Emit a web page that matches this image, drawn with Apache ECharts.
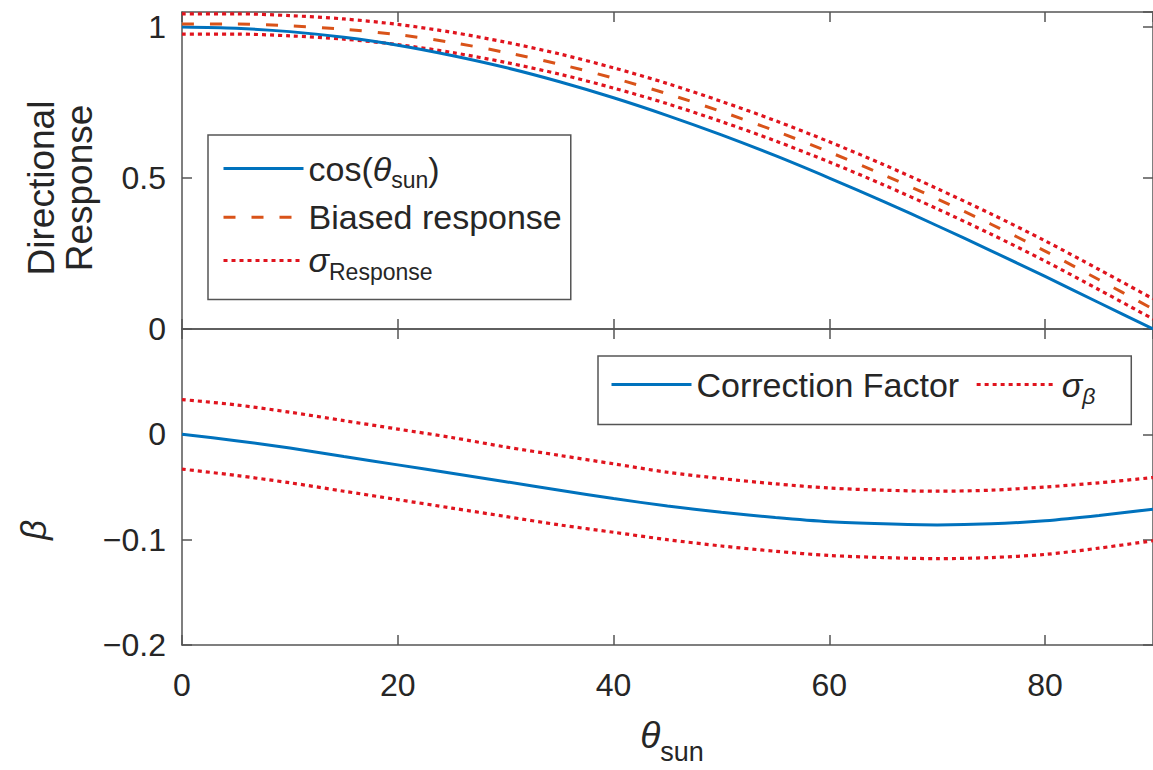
<!DOCTYPE html>
<html>
<head>
<meta charset="utf-8">
<script src="https://cdn.jsdelivr.net/npm/echarts@6/dist/echarts.min.js"></script>
<style>
html,body{margin:0;padding:0;background:#fff;}
#chart{width:1153px;height:770px;}
</style>
</head>
<body>
<div id="chart"></div>
<script>
// ---- data ----
const theta = [0,5,10,15,20,25,30,35,40,45,50,55,60,65,70,75,80,85,90];
const cosSun = [1.000,0.996,0.985,0.966,0.940,0.906,0.866,0.819,0.766,0.707,0.643,0.574,0.500,0.423,0.342,0.259,0.174,0.087,0.000];
const biasedResp = [1.010,1.010,1.004,0.993,0.975,0.949,0.916,0.877,0.831,0.779,0.720,0.656,0.586,0.511,0.431,0.347,0.258,0.163,0.066];
const respUpper = [1.044,1.044,1.038,1.027,1.009,0.983,0.950,0.911,0.865,0.813,0.754,0.690,0.620,0.545,0.465,0.381,0.292,0.197,0.100];
const respLower = [0.977,0.977,0.971,0.960,0.942,0.916,0.883,0.844,0.798,0.746,0.687,0.623,0.553,0.478,0.398,0.314,0.225,0.130,0.033];
const beta = [0.000,-0.006,-0.013,-0.021,-0.029,-0.037,-0.045,-0.053,-0.061,-0.068,-0.074,-0.079,-0.083,-0.085,-0.086,-0.085,-0.082,-0.077,-0.071];
const betaUpper = [0.033,0.028,0.021,0.013,0.005,-0.003,-0.012,-0.020,-0.028,-0.036,-0.042,-0.047,-0.051,-0.053,-0.054,-0.053,-0.050,-0.046,-0.041];
const betaLower = [-0.033,-0.039,-0.046,-0.054,-0.062,-0.070,-0.078,-0.086,-0.093,-0.100,-0.106,-0.111,-0.115,-0.117,-0.118,-0.117,-0.114,-0.108,-0.101];
const seriesNames = ['cos(θsun)','Biased response','σResponse','Correction Factor','σβ'];

// ---- styling ----
const FONT = 'Liberation Sans, Arial, Helvetica, sans-serif';
const TXT = '#262626';
const AX = '#555555';
const BLUE = '#0072BD', ORANGE = '#D95319', RED = '#E0141E';

function pts(arr){ return theta.map((t,i)=>[t, arr[i]]); }
function fmtMinus(v){ return String(Math.round(v*100)/100).replace('-', '\u2212'); }

function xAx(grid, pos, labels){
  return {type:'value', gridIndex:grid, position:pos, min:0, max:90, interval:20,
    axisLine:{show:true, onZero:false, lineStyle:{color:AX, width:1.5}},
    axisTick:{show:true, inside:true, length:10, lineStyle:{color:AX, width:1.5}},
    axisLabel:{show:labels, showMaxLabel:false, margin:24, fontSize:32, fontFamily:FONT, color:TXT},
    splitLine:{show:false}};
}
function yAx(grid, pos, labels, min, max, interval, fmt){
  return {type:'value', gridIndex:grid, position:pos, min:min, max:max, interval:interval,
    axisLine:{show:true, onZero:false, lineStyle:{color:AX, width:1.5}},
    axisTick:{show:true, inside:true, length:10, lineStyle:{color:AX, width:1.5}},
    axisLabel:{show:labels, showMaxLabel:false, margin:16, fontSize:32, fontFamily:FONT, color:TXT, formatter:fmt},
    splitLine:{show:false}};
}
function line(name, data, xi, yi, color, type, width){
  return {name:name, type:'line', xAxisIndex:xi, yAxisIndex:yi, data:pts(data),
    symbol:'none', smooth:0.3, clip:true,
    lineStyle:{color:color, width:width, type:type}, itemStyle:{color:color}, emphasis:{disabled:true}};
}

const rich = {
  n:{fontSize:34, fontFamily:FONT, color:TXT, lineHeight:44, verticalAlign:'middle'},
  i:{fontSize:34, fontFamily:FONT, fontStyle:'italic', color:TXT, lineHeight:44, verticalAlign:'middle'},
  s:{fontSize:23, fontFamily:FONT, color:TXT, lineHeight:46, verticalAlign:'bottom'},
  si:{fontSize:23, fontFamily:FONT, fontStyle:'italic', color:TXT, lineHeight:46, verticalAlign:'bottom'}
};
const legendText = {
  'cos(θsun)':'{n|cos(}{i|θ}{s|sun}{n|)}',
  'Biased response':'{n|Biased response}',
  'σResponse':'{i|σ}{s|Response}',
  'Correction Factor':'{n|Correction Factor}',
  'σβ':'{i|σ}{si|β}'
};
function legend(data, left, top, orient, gap, padding){
  return {data:data, left:left, top:top, orient:orient, itemGap:gap, itemWidth:80, itemHeight:44,
    padding:padding, backgroundColor:'#ffffff', borderColor:AX, borderWidth:1.5, borderRadius:0,
    selectedMode:false, lineStyle:{width:3}, itemStyle:{opacity:0},
    formatter:function(n){ return legendText[n]; },
    textStyle:{fontSize:34, fontFamily:FONT, color:TXT, rich:rich}};
}

const chart = echarts.init(document.getElementById('chart'), null, {renderer:'svg'});
chart.setOption({
  animation:false,
  backgroundColor:'#ffffff',
  grid:[{left:182, top:12, width:973, height:317}, {left:182, top:329, width:973, height:316}],
  xAxis:[xAx(0,'bottom',false), xAx(0,'top',false), xAx(1,'bottom',true), xAx(1,'top',false)],
  yAxis:[yAx(0,'left',true,0,1.05,0.5), yAx(0,'right',false,0,1.05,0.5),
         yAx(1,'left',true,-0.2,0.1,0.1,fmtMinus), yAx(1,'right',false,-0.2,0.1,0.1)],
  legend:[
    legend([seriesNames[0],seriesNames[1],seriesNames[2]], 208, 135, 'vertical', 8, [16,9,16,14]),
    legend([seriesNames[3],seriesNames[4]], 598, 356, 'horizontal', 16, [11,36,17,12])
  ],
  series:[
    line(seriesNames[2], respUpper, 0, 0, RED, [4,4], 3.2),
    line(seriesNames[2], respLower, 0, 0, RED, [4,4], 3.2),
    line(seriesNames[0], cosSun, 0, 0, BLUE, 'solid', 3),
    line(seriesNames[1], biasedResp, 0, 0, ORANGE, [12,16], 3),
    line(seriesNames[4], betaUpper, 2, 2, RED, [4,4], 3.2),
    line(seriesNames[4], betaLower, 2, 2, RED, [4,4], 3.2),
    line(seriesNames[3], beta, 2, 2, BLUE, 'solid', 3)
  ],
  graphic:[
    {type:'text', x:60, y:188, rotation:Math.PI/2, silent:true,
     style:{text:'Directional\nResponse', fontSize:37, fontFamily:FONT, fill:TXT, align:'center', verticalAlign:'middle', lineHeight:38}},
    {type:'text', x:33, y:530, rotation:Math.PI/2, silent:true,
     style:{text:'β', fontSize:35, fontStyle:'italic', fontFamily:FONT, fill:TXT, align:'center', verticalAlign:'middle'}},
    {type:'text', x:672, y:735, silent:true,
     style:{text:'{t|θ}{s|sun}', align:'center', verticalAlign:'middle',
       rich:{t:{fontSize:37, fontStyle:'italic', fontFamily:FONT, fill:TXT, color:TXT, lineHeight:60, verticalAlign:'middle'},
             s:{fontSize:27, fontFamily:FONT, fill:TXT, color:TXT, lineHeight:60, verticalAlign:'bottom'}}}}
  ]
});
</script>
</body>
</html>
